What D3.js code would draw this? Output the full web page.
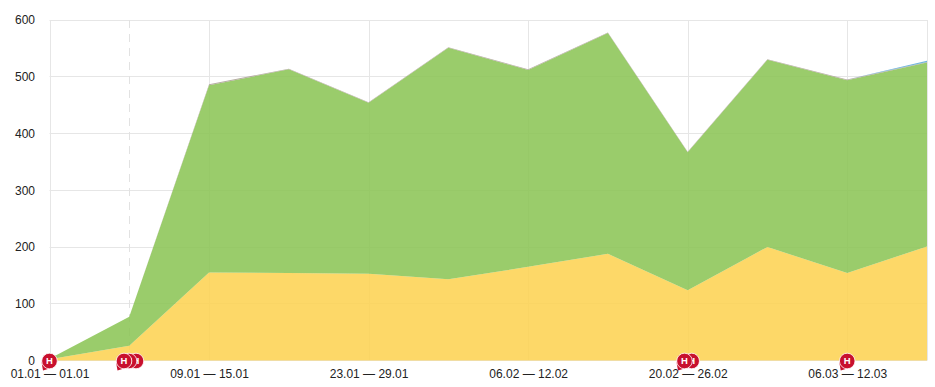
<!DOCTYPE html>
<html>
<head>
<meta charset="utf-8">
<script src="https://cdn.jsdelivr.net/npm/d3@7"></script>
<style>
  html, body { margin: 0; padding: 0; background: #fff; }
  svg { display: block; }
  text { font-family: "Liberation Sans", Arial, sans-serif; font-size: 12px; fill: #222; }
</style>
</head>
<body>
<div id="chart"></div>
<script>
const categories = ["01.01 — 01.01", "02.01 — 08.01", "09.01 — 15.01", "16.01 — 22.01",
  "23.01 — 29.01", "30.01 — 05.02", "06.02 — 12.02", "13.02 — 19.02",
  "20.02 — 26.02", "27.02 — 05.03", "06.03 — 12.03", "13.03 — 19.03"]
const yellowValues = [2, 26, 155, 154, 153, 143, 165, 188, 124, 200, 154, 201]
const greenValues = [1, 51, 330, 359, 301, 408, 347, 389, 243, 330, 340, 324]
const greyValues = [0, 0, 2, 1, 1, 1, 1, 1, 1, 1, 1, 1]
const blueValues = [0, 0, 0, 0, 0, 0, 0, 0, 0, 0, 0, 2]
const yTicks = [0, 100, 200, 300, 400, 500, 600]
const crosshairIndex = 1
// flag positions are in category units, one entry per bubble
const flagPositions = [1.084, 0.997, 0.934, 0, 8.05, 7.96, 10]

const width = 935
const height = 387
const margin = { top: 20, right: 8, bottom: 26.5, left: 49.5 }

const svg = d3.select("#chart").append("svg")
  .attr("width", width)
  .attr("height", height)

const x = d3.scaleLinear()
  .domain([0, categories.length - 1])
  .range([margin.left, width - margin.right])

const y = d3.scaleLinear()
  .domain([0, 600])
  .range([height - margin.bottom, margin.top])

const rows = categories.map((c, i) => ({
  i: i,
  yellow: yellowValues[i],
  green: greenValues[i],
  grey: greyValues[i],
  blue: blueValues[i]
}))

const stack = d3.stack().keys(["yellow", "green", "grey", "blue"])
const colors = { yellow: "#fdd14d", green: "#88c351", grey: "#a89c92", blue: "#55a8d6" }

const area = d3.area()
  .x(d => x(d.data.i))
  .y0(d => y(d[0]))
  .y1(d => y(d[1]))

// grid goes under the areas, they are slightly see-through
const grid = svg.append("g")
  .attr("stroke", "#e6e6e6")

grid.selectAll("line.h")
  .data(yTicks)
  .join("line")
    .attr("class", "h")
    .attr("x1", x.range()[0])
    .attr("x2", x.range()[1])
    .attr("y1", d => Math.floor(y(d)) + 0.5)
    .attr("y2", d => Math.floor(y(d)) + 0.5)

grid.selectAll("line.v")
  .data(categories.map((c, i) => i).filter(i => i % 2 === 0).concat([categories.length - 1]))
  .join("line")
    .attr("class", "v")
    .attr("x1", d => Math.round(x(d)) + 0.5)
    .attr("x2", d => Math.round(x(d)) + 0.5)
    .attr("y1", y(600))
    .attr("y2", y(0))

svg.append("line")
  .attr("x1", Math.round(x(crosshairIndex)) + 0.5)
  .attr("x2", Math.round(x(crosshairIndex)) + 0.5)
  .attr("y1", y(600))
  .attr("y2", y(0))
  .attr("stroke", "#e2e2e2")
  .attr("stroke-dasharray", "8,6")

svg.append("g")
  .selectAll("path")
  .data(stack(rows))
  .join("path")
    .attr("fill", d => colors[d.key])
    .attr("fill-opacity", 0.85)
    .attr("d", area)

const yAxis = d3.axisLeft(y).tickValues(yTicks).tickSize(0).tickPadding(0)
svg.append("g")
  .attr("transform", "translate(35,0)")
  .call(yAxis)
  .call(g => g.select(".domain").remove())

const xAxis = d3.axisBottom(x)
  .tickValues(categories.map((c, i) => i).filter(i => i % 2 === 0))
  .tickFormat(i => categories[i])
  .tickSize(0)
  .tickPadding(0)
svg.append("g")
  .attr("transform", "translate(0,369)")
  .call(xAxis)
  .call(g => g.select(".domain").remove())

svg.selectAll(".tick text").style("font-size", "12px").style("font-family", '"Liberation Sans", Arial, sans-serif').attr("fill", "#222")

const flags = svg.append("g")
  .selectAll("g")
  .data(flagPositions)
  .join("g")
    .attr("transform", d => `translate(${x(d)},${y(0) + 0.5})`)

// only the front bubble of a pile shows its tail
flags.filter((d, i) => !(Math.abs(flagPositions[i + 1] - d) < 0.2))
  .append("path")
    .attr("d", "M-8,1 L-6.5,9.5 L0,7.5 Z")
    .attr("fill", "#c8102e")

flags.append("circle")
  .attr("r", 7.8)
  .attr("fill", "#c8102e")
  .attr("stroke", "#fff")
  .attr("stroke-width", 0.8)

flags.append("text")
  .attr("text-anchor", "middle")
  .attr("y", 3.4)
  .style("font-size", "9.5px")
  .style("font-weight", "bold")
  .style("fill", "#fff")
  .text("H")
</script>
</body>
</html>
